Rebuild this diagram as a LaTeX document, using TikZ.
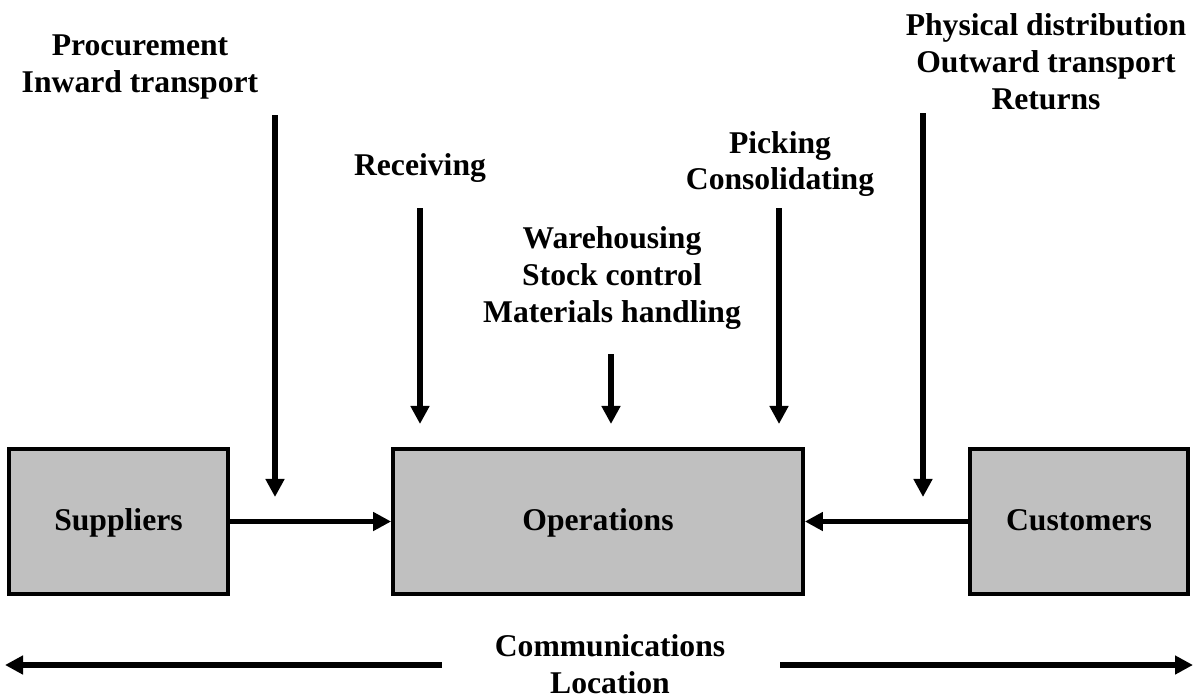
\documentclass[tikz,border=0pt]{standalone}
\usepackage{fontspec}
\setmainfont{Liberation Serif}
\usetikzlibrary{arrows.meta}
\definecolor{boxgray}{RGB}{192,192,192}
\begin{document}
\begin{tikzpicture}[x=0.01cm,y=-0.01cm,
  box/.style={draw=black,line width=1pt,fill=boxgray,minimum width=2.19cm,minimum height=1.45cm,inner sep=0pt,text height=0.7em,text depth=0.2em,font=\fontsize{9}{10.5}\selectfont\bfseries},
  lbl/.style={align=center,inner sep=0pt,font=\fontsize{9}{10.5}\selectfont\bfseries},
  arr/.style={line width=1.6pt,-{Triangle[length=0.18cm,width=0.18cm]}}]
\useasboundingbox (0,0) rectangle (1197,697);
% boxes
\node[box] (sup) at (118.5,521.5) {Suppliers};
\node[box,minimum width=4.1cm] (ops) at (598,521.5) {Operations};
\node[box,minimum width=2.18cm] (cus) at (1079,521.5) {Customers};
% labels
\node[lbl] (proc) at (140,67) {Procurement\\Inward transport};
\node[lbl] (recv) at (420,168) {Receiving};
\node[lbl] (pick) at (780,164) {Picking\\Consolidating};
\node[lbl] (ware) at (612,278) {Warehousing\\Stock control\\Materials handling};
\node[lbl] (phys) at (1046,62) {Physical distribution\\Outward transport\\Returns};
\node[lbl] (comm) at (610,664) {Communications\\Location};
% coordinates
\coordinate (p1) at (275,115); \coordinate (p2) at (275,497);
\coordinate (r1) at (420,208); \coordinate (r2) at (420,424);
\coordinate (w1) at (611,354); \coordinate (w2) at (611,424);
\coordinate (k1) at (779,208); \coordinate (k2) at (779,424);
\coordinate (d1) at (923,113); \coordinate (d2) at (923,497);
\coordinate (cl1) at (442,665); \coordinate (cl2) at (5,665);
\coordinate (cr1) at (780,665); \coordinate (cr2) at (1193,665);
% arrows
\draw[arr] (p1) -- (p2);
\draw[arr] (r1) -- (r2);
\draw[arr] (w1) -- (w2);
\draw[arr] (k1) -- (k2);
\draw[arr] (d1) -- (d2);
\draw[arr] (sup.east) -- (ops.west);
\draw[arr] (cus.west) -- (ops.east);
\draw[arr] (cl1) -- (cl2);
\draw[arr] (cr1) -- (cr2);
\end{tikzpicture}
\end{document}
